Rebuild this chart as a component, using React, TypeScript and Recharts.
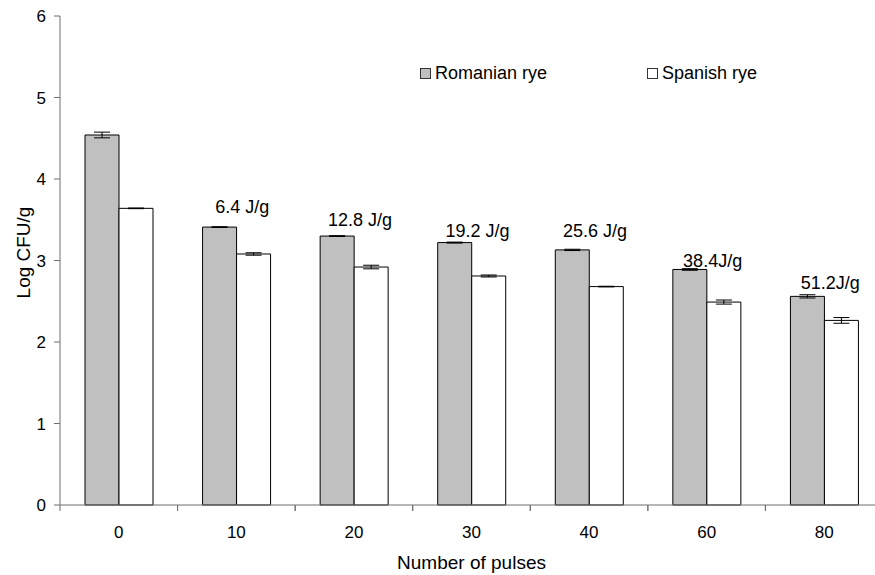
import React from "react";
import {
  BarChart,
  Bar,
  XAxis,
  YAxis,
  ErrorBar,
  Legend,
  ReferenceDot,
} from "recharts";

const pulses = ["0", "10", "20", "30", "40", "60", "80"];
const romanian = [4.54, 3.41, 3.3, 3.22, 3.13, 2.89, 2.56];
const romanianErr = [0.035, 0.005, 0.005, 0.006, 0.008, 0.01, 0.02];
const spanish = [3.64, 3.08, 2.92, 2.81, 2.68, 2.49, 2.265];
const spanishErr = [0.004, 0.015, 0.022, 0.012, 0.004, 0.025, 0.035];

// energy notes above the groups (x category, y in data units)
const energyAt = ["10", "20", "30", "40", "60", "80"];
const energyText = ["6.4 J/g", "12.8 J/g", "19.2 J/g", "25.6 J/g", "38.4J/g", "51.2J/g"];
const energyY = [3.66, 3.5, 3.36, 3.36, 2.99, 2.72];

const yTicks = [0, 1, 2, 3, 4, 5, 6];

const data = pulses.map((p, i) => ({
  pulses: p,
  romanian: romanian[i],
  romanianErr: romanianErr[i],
  spanish: spanish[i],
  spanishErr: spanishErr[i],
}));

const FONT = "'Liberation Sans', Arial, sans-serif";
const AXIS = "#6e6e6e";
const X_TICK_MARGIN = 15;

// category label plus a tick mark on the edges of each band (Excel style)
function PulseTick(props: any) {
  const { x, y, payload, width, visibleTicksCount } = props;
  const band = width / visibleTicksCount;
  const axisY = y - 6 - X_TICK_MARGIN;
  const left = x - band / 2;
  return (
    <g>
      <line x1={left} y1={axisY} x2={left} y2={axisY + 6} stroke={AXIS} />
      <line x1={left + band} y1={axisY} x2={left + band} y2={axisY + 6} stroke={AXIS} />
      <text x={x} y={y} dy="0.71em" textAnchor="middle" fontSize={17} fill="#000">
        {payload.value}
      </text>
    </g>
  );
}

function LegendBox() {
  const item = (left: number, fill: string, text: string) => (
    <div
      style={{
        position: "absolute",
        left,
        top: 63,
        display: "flex",
        alignItems: "center",
        whiteSpace: "nowrap",
        fontSize: 18,
        color: "#000",
      }}
    >
      <span
        style={{
          display: "inline-block",
          width: 9,
          height: 9,
          background: fill,
          border: "1px solid #333",
          marginRight: 4,
        }}
      />
      {text}
    </div>
  );
  return (
    <div style={{ position: "relative", height: 0 }}>
      {item(420, "#c0c0c0", "Romanian rye")}
      {item(647, "#ffffff", "Spanish rye")}
    </div>
  );
}

export default function App() {
  return (
    <div
      style={{
        position: "absolute",
        left: 0,
        top: 0,
        width: 875,
        height: 575,
        overflow: "hidden",
        background: "#fff",
        fontFamily: FONT,
      }}
    >
      <BarChart
        width={890}
        height={575}
        data={data}
        margin={{ top: 16, right: 7, bottom: 0, left: 0 }}
        barGap={0}
        barCategoryGap={25}
      >
        <XAxis
          dataKey="pulses"
          axisLine={{ stroke: AXIS }}
          tickLine={false}
          tickSize={6}
          height={70}
          tickMargin={X_TICK_MARGIN}
          tick={<PulseTick />}
          label={{
            value: "Number of pulses",
            position: "insideBottom",
            offset: 6,
            fontSize: 19,
            fill: "#000",
          }}
        />
        <YAxis
          domain={[0, 6]}
          ticks={yTicks}
          width={60}
          tickSize={6}
          tickMargin={8}
          axisLine={{ stroke: AXIS }}
          tickLine={{ stroke: AXIS }}
          tick={{ fontSize: 17, fill: "#000" }}
          label={{
            content: ({ viewBox }: any) => {
              const cx = viewBox.x + 23;
              const cy = viewBox.y + viewBox.height / 2 - 8;
              return (
                <text
                  x={cx}
                  y={cy}
                  transform={`rotate(-90, ${cx}, ${cy})`}
                  textAnchor="middle"
                  dominantBaseline="central"
                  fontSize={19}
                  fill="#000"
                >
                  Log CFU/g
                </text>
              );
            },
          }}
        />
        <Legend verticalAlign="top" wrapperStyle={{ top: 0, left: 0, width: 890 }} content={() => <LegendBox />} />
        <Bar dataKey="romanian" name="Romanian rye" fill="#c0c0c0" stroke="#000" strokeWidth={1} isAnimationActive={false}>
          <ErrorBar dataKey="romanianErr" width={8} stroke="#000" strokeWidth={1} direction="y" isAnimationActive={false} />
        </Bar>
        <Bar dataKey="spanish" name="Spanish rye" fill="#ffffff" stroke="#000" strokeWidth={1} isAnimationActive={false}>
          <ErrorBar dataKey="spanishErr" width={8} stroke="#000" strokeWidth={1} direction="y" isAnimationActive={false} />
        </Bar>
        {energyAt.map((cat, i) => (
          <ReferenceDot
            key={cat}
            x={cat}
            y={energyY[i]}
            r={0}
            fill="none"
            stroke="none"
            label={{
              content: ({ viewBox }: any) => (
                <text
                  x={viewBox.x + 6}
                  y={viewBox.y}
                  textAnchor="middle"
                  dominantBaseline="central"
                  fontSize={18}
                  fill="#000"
                >
                  {energyText[i]}
                </text>
              ),
            }}
          />
        ))}
      </BarChart>
    </div>
  );
}
